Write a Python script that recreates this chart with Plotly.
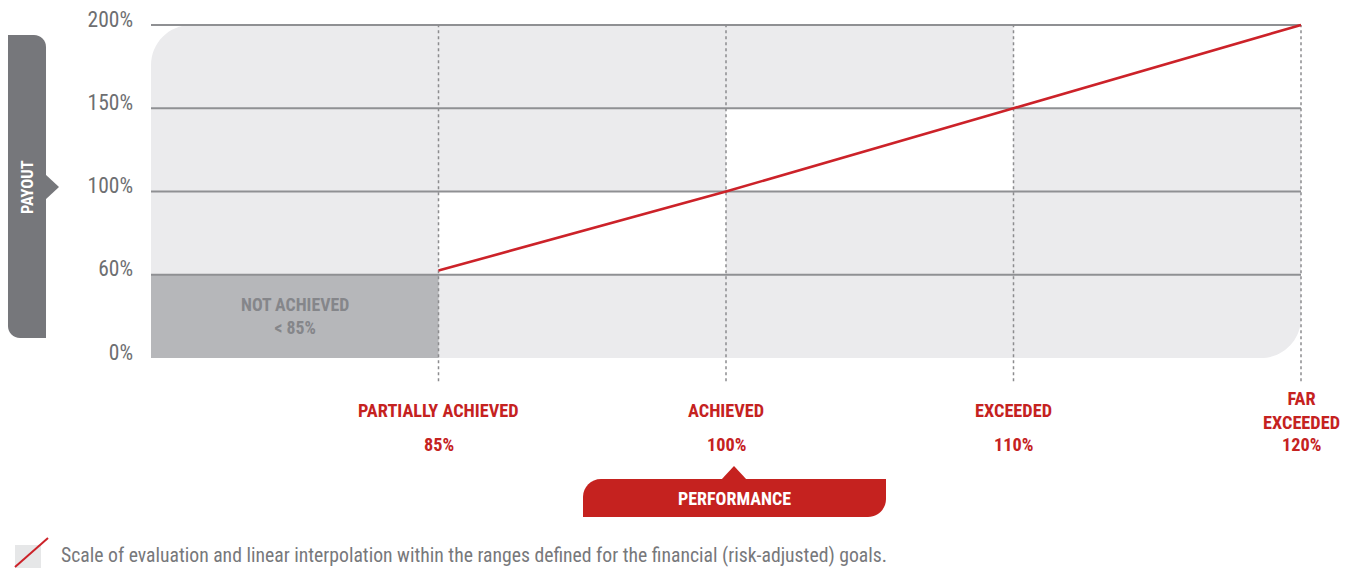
import numpy as np
import plotly.graph_objects as go

# Performance levels (x) and the payout earned at each of them (y)
perf_levels = [85, 100, 110, 120]
perf_names = ["PARTIALLY ACHIEVED", "ACHIEVED", "EXCEEDED", "FAR<br>EXCEEDED"]
payout_values = [62, 100, 150, 200]

# Payout axis: evenly spaced bands
payout_ticks = [0, 60, 100, 150, 200]
payout_tick_labels = ["0%", "60%", "100%", "150%", "200%"]

# Text
not_achieved_label = "NOT ACHIEVED<br>&lt; 85%"
y_title = "PAYOUT"
x_title = "PERFORMANCE"
legend_text = ("Scale of evaluation and linear interpolation within the ranges "
               "defined for the financial (risk-adjusted) goals.")

# ---- page geometry -------------------------------------------------------
WIDTH, HEIGHT = 1351, 568
ML, MR, MT, MB = 151, 33, 15, 180
PW, PH = WIDTH - ML - MR, HEIGHT - MT - MB
SX = 287.5           # px per performance band
SY = 83.25           # px per payout band
X_MAX = PW / SX
Y_MAX = 4 + (25 - MT) / SY
Y_MIN = Y_MAX - PH / SY

FONT = "Liberation Sans Narrow, Arial Narrow, Roboto Condensed, sans-serif"
RED = "#C5221F"
LINE_RED = "#CC2229"
BG_GREY = "#EBEBED"
DARK_GREY = "#B6B7BA"
GRID = "#8F9093"
TAB_GREY = "#76777B"

# band positions on the chart
x_pos = np.arange(1, len(perf_levels) + 1)
tick_pos = np.arange(len(payout_ticks))
y_pos = np.interp(payout_values, payout_ticks, tick_pos)


def pxx(px):
    return (px - ML) / PW


def pxy(py):
    return (MT + PH - py) / PH


def rounded_path(left, top, right, bottom, rx, ry, corners, fmt):
    """Closed path of a rectangle with selected rounded corners."""
    sy = 1 if bottom > top else -1
    k = 0.4477

    def r(c):
        return (rx, ry * sy) if c in corners else (0, 0)

    a, b = r("tl")
    c, d = r("tr")
    e, f = r("br")
    g, h = r("bl")
    P = fmt
    return (
        f"M {P(left + a, top)} L {P(right - c, top)} "
        f"C {P(right - c * k, top)} {P(right, top + d * k)} {P(right, top + d)} "
        f"L {P(right, bottom - f)} "
        f"C {P(right, bottom - f * k)} {P(right - e * k, bottom)} {P(right - e, bottom)} "
        f"L {P(left + g, bottom)} "
        f"C {P(left + g * k, bottom)} {P(left, bottom - h * k)} {P(left, bottom - h)} "
        f"L {P(left, top + b)} "
        f"C {P(left, top + b * k)} {P(left + a * k, top)} {P(left + a, top)} Z"
    )


fmt_data = lambda x, y: f"{x:.5f},{y:.5f}"
fmt_px = lambda x, y: f"{pxx(x):.5f},{pxy(y):.5f}"

fig = go.Figure()

# payout line
fig.add_trace(go.Scatter(
    x=x_pos, y=y_pos, mode="lines",
    line=dict(color=LINE_RED, width=2.6),
    hoverinfo="skip", showlegend=False,
))

shapes = []
top_y = tick_pos[-1]
right_x = x_pos[-1]

# rounded grey background of the grid
shapes.append(dict(
    type="path", xref="x", yref="y", layer="below",
    path=rounded_path(0, top_y, right_x, 0, 40 / SX, 40 / SY, {"tl", "br"}, fmt_data),
    fillcolor=BG_GREY, line=dict(width=0),
))

# white band each segment of the line passes through
for i in range(len(x_pos) - 1):
    shapes.append(dict(
        type="rect", xref="x", yref="y", layer="below",
        x0=x_pos[i], x1=x_pos[i + 1], y0=tick_pos[i + 1], y1=tick_pos[i + 2],
        fillcolor="white", line=dict(width=0),
    ))

# "not achieved" band
shapes.append(dict(
    type="rect", xref="x", yref="y", layer="below",
    x0=0, x1=x_pos[0], y0=0, y1=tick_pos[1],
    fillcolor=DARK_GREY, line=dict(width=0),
))

# horizontal grid lines
for t in tick_pos[1:]:
    shapes.append(dict(
        type="line", xref="x", yref="y", layer="below",
        x0=0, x1=right_x, y0=t, y1=t,
        line=dict(color=GRID, width=2),
    ))

# dashed level markers
for xp in x_pos:
    shapes.append(dict(
        type="line", xref="x", yref="y", layer="below",
        x0=xp, x1=xp, y0=-0.28, y1=top_y,
        line=dict(color="#8C8C8E", width=1.5, dash="3px,3px"),
    ))

# PAYOUT tab with pointer
shapes.append(dict(
    type="path", xref="paper", yref="paper",
    path=rounded_path(8, 35, 46, 338, 12, 12, {"tr", "bl"}, fmt_px),
    fillcolor=TAB_GREY, line=dict(width=0),
))
shapes.append(dict(
    type="path", xref="paper", yref="paper",
    path=f"M {fmt_px(45, 174)} L {fmt_px(59, 187)} L {fmt_px(45, 200)} Z",
    fillcolor=TAB_GREY, line=dict(width=0),
))

# PERFORMANCE tab with pointer
shapes.append(dict(
    type="path", xref="paper", yref="paper",
    path=rounded_path(583, 479, 886, 517, 18, 18, {"tl", "br"}, fmt_px),
    fillcolor=RED, line=dict(width=0),
))
shapes.append(dict(
    type="path", xref="paper", yref="paper",
    path=f"M {fmt_px(721, 480)} L {fmt_px(734, 466)} L {fmt_px(747, 480)} Z",
    fillcolor=RED, line=dict(width=0),
))

# legend swatch
shapes.append(dict(
    type="rect", xref="paper", yref="paper",
    x0=pxx(15), x1=pxx(41), y0=pxy(568), y1=pxy(545),
    fillcolor="#E6E7E8", line=dict(width=0),
))
shapes.append(dict(
    type="line", xref="paper", yref="paper",
    x0=pxx(15), x1=pxx(48), y0=pxy(567), y1=pxy(538),
    line=dict(color=LINE_RED, width=2),
))

annotations = []
label_font = dict(family=FONT, size=18.3, color=RED, weight="bold")

# performance level labels
for xp, name, lvl in zip(x_pos, perf_names, perf_levels):
    annotations.append(dict(
        x=xp, xref="x", y=pxy(410), yref="paper", text=name, showarrow=False,
        xanchor="center", yanchor="middle", font=label_font,
    ))
    annotations.append(dict(
        x=xp, xref="x", y=pxy(444), yref="paper", text=f"{lvl}%", showarrow=False,
        xanchor="center", yanchor="middle", font=label_font,
    ))

annotations.append(dict(
    x=x_pos[0] / 2, xref="x", y=tick_pos[1] / 2, yref="y",
    text=not_achieved_label, showarrow=False,
    xanchor="center", yanchor="middle",
    font=dict(family=FONT, size=17.8, color="#85868A", weight="bold"),
))

annotations.append(dict(
    x=pxx(27), xref="paper", y=pxy(187), yref="paper", text=y_title,
    showarrow=False, textangle=-90, xanchor="center", yanchor="middle",
    font=dict(family=FONT, size=16.5, color="white", weight="bold"),
))
annotations.append(dict(
    x=pxx(734), xref="paper", y=pxy(498), yref="paper", text=x_title,
    showarrow=False, xanchor="center", yanchor="middle",
    font=dict(family=FONT, size=18, color="white", weight="bold"),
))
annotations.append(dict(
    x=pxx(59), xref="paper", y=pxy(555), yref="paper", text=legend_text,
    showarrow=False, xanchor="left", yanchor="middle",
    font=dict(family=FONT, size=19.7, color="#77787B"),
))

fig.update_layout(
    template="none",
    width=WIDTH, height=HEIGHT,
    margin=dict(l=ML, r=MR, t=MT, b=MB, autoexpand=False),
    paper_bgcolor="white", plot_bgcolor="white",
    showlegend=False,
    shapes=shapes, annotations=annotations,
    xaxis=dict(range=[0, X_MAX], showgrid=False, zeroline=False, showline=False,
               showticklabels=False, ticks="", fixedrange=True, automargin=False),
    yaxis=dict(range=[Y_MIN, Y_MAX], tickvals=tick_pos, ticktext=payout_tick_labels,
               showgrid=False, zeroline=False, showline=False, ticks="",
               ticklabelstandoff=17, ticklabelshift=-6,
               tickfont=dict(family=FONT, size=21.5, color="#6D6E71"),
               fixedrange=True, automargin=False),
)

fig.write_html("out.html", config={"displayModeBar": False})
